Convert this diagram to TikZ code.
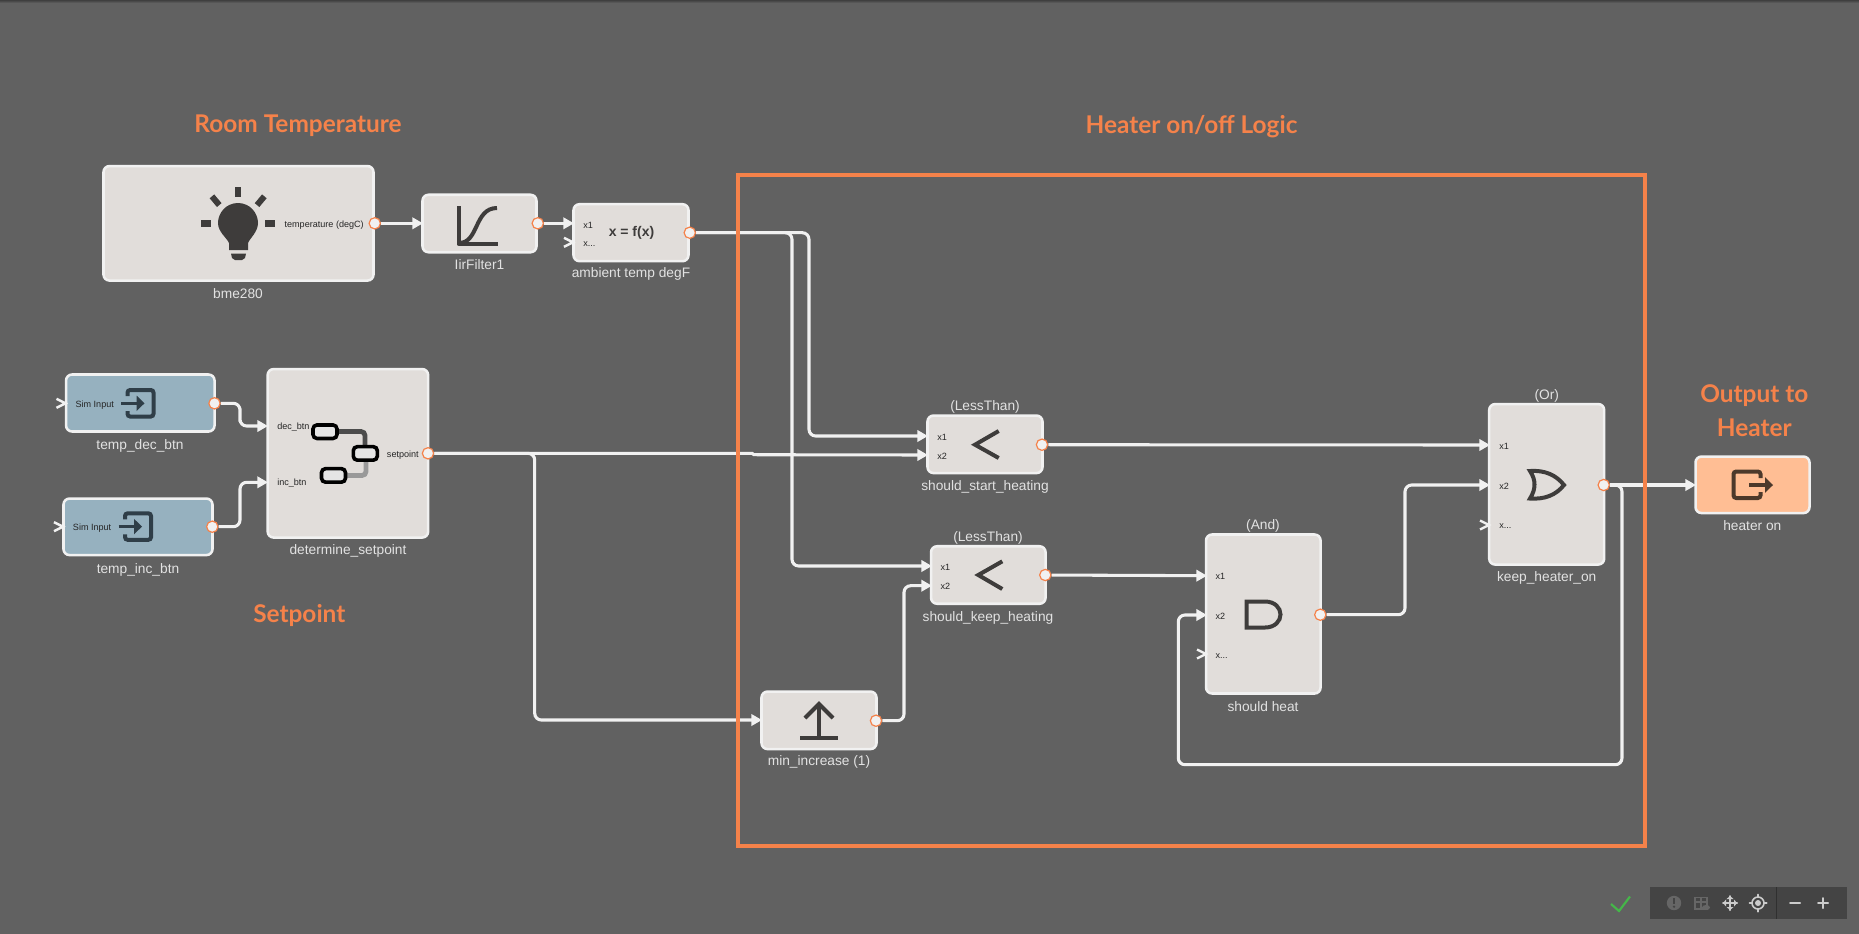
\documentclass[tikz,border=0pt]{standalone}
\usepackage{fontspec}
\setmainfont{Liberation Sans}
\newfontfamily\headfont{Lato}
\usetikzlibrary{arrows.meta,calc,shapes.geometric}
\definecolor{bgc}{HTML}{616161}
\definecolor{boxc}{HTML}{E1DDDA}
\definecolor{edgec}{HTML}{F1F1F1}
\definecolor{simc}{HTML}{96B1BF}
\definecolor{outc}{HTML}{FFBE94}
\definecolor{orangec}{HTML}{F5824A}
\definecolor{darkc}{HTML}{3E3C3B}
\definecolor{simdark}{HTML}{2F3E48}
\definecolor{outdark}{HTML}{4C392B}
\definecolor{labc}{HTML}{E2E2E2}
\definecolor{barc}{HTML}{444444}
\definecolor{okc}{HTML}{45B649}
\tikzset{
 x=0.75pt,y=-0.75pt,
 blockbox/.style={draw=edgec,fill=boxc,line width=1.9pt,rounded corners=4.5pt,inner sep=0pt},
 simbox/.style={blockbox,fill=simc},
 outbox/.style={blockbox,fill=outc},
 wire/.style={draw=edgec,line width=2.3pt,rounded corners=5pt},
 arrowwire/.style={wire,-{Triangle[length=8pt,width=8.5pt]}},
 portdot/.style={circle,draw=orangec,fill=edgec,line width=0.9pt,minimum size=8.5pt,inner sep=0pt},
 openin/.style={draw=edgec,line width=1.8pt},
 blocklabel/.style={text=labc,font=\fontsize{10.3pt}{12pt}\selectfont,inner sep=0pt},
 portlabel/.style={text=black!85,font=\fontsize{6.8pt}{8pt}\selectfont,inner sep=0pt},
 heading/.style={text=orangec,font=\headfont\bfseries\fontsize{18.3pt}{20pt}\selectfont,inner sep=0pt},
 glyph/.style={draw=darkc,line width=3pt},
 tool/.style={draw=#1,line width=1.5pt,line cap=round},
}
\begin{document}
\begin{tikzpicture}
\useasboundingbox (0,0) rectangle (1859,933);
\fill[bgc] (-5,-5) rectangle (1865,940);
\shade[top color=black!35!bgc,bottom color=bgc] (-5,0) rectangle (1865,3);

% blocks
\node[blockbox,minimum width=270*0.75pt,minimum height=114.5*0.75pt] (bme) at (238.5,223.3) {};
\node[blockbox,minimum width=114*0.75pt,minimum height=57.5*0.75pt] (lir) at (479.5,223.5) {};
\node[blockbox,minimum width=115*0.75pt,minimum height=57*0.75pt] (amb) at (631,232.7) {};
\node[simbox,minimum width=148.5*0.75pt,minimum height=57*0.75pt] (dec) at (140.3,403) {};
\node[simbox,minimum width=149*0.75pt,minimum height=56.5*0.75pt] (inc) at (138,526.8) {};
\node[blockbox,minimum width=160.5*0.75pt,minimum height=168.5*0.75pt] (det) at (347.9,453.3) {};
\node[blockbox,minimum width=115*0.75pt,minimum height=57.5*0.75pt] (start) at (985,444.3) {};
\node[blockbox,minimum width=114.5*0.75pt,minimum height=57.5*0.75pt] (keep) at (988.3,575) {};
\node[blockbox,minimum width=114.5*0.75pt,minimum height=159*0.75pt] (heat) at (1263.3,614) {};
\node[blockbox,minimum width=115*0.75pt,minimum height=160.5*0.75pt] (orb) at (1546.7,484.3) {};
\node[outbox,minimum width=114*0.75pt,minimum height=56.5*0.75pt] (heater) at (1752.5,484.8) {};
\node[blockbox,minimum width=115*0.75pt,minimum height=57.5*0.75pt] (minc) at (819,720.3) {};

% ports
\node[portdot] (bmeOut) at (bme.east |- 0,223.3) {};
\node[portdot] (lirOut) at (lir.east |- 0,223.3) {};
\node[portdot] (ambOut) at (amb.east |- 0,232.7) {};
\node[portdot] (decOut) at (214.5,403.3) {};
\node[portdot] (incOut) at (212.3,526.7) {};
\node[portdot] (detOut) at (428,453.3) {};
\node[portdot] (startOut) at (1042,444.7) {};
\node[portdot] (keepOut) at (1045.3,575) {};
\node[portdot] (heatOut) at (1320.3,614.7) {};
\node[portdot] (orOut) at (1603.7,485) {};
\node[portdot] (mincOut) at (876,720.7) {};

% input anchors
\coordinate (lirIn) at (423,223.3);
\coordinate (ambIn) at (574,223.3);
\coordinate (detInA) at (268,426);
\coordinate (detInB) at (268,482.3);
\coordinate (startInA) at (928,436);
\coordinate (startInB) at (928,455);
\coordinate (keepInA) at (932,566);
\coordinate (keepInB) at (932,585.7);
\coordinate (heatInA) at (1207,575.7);
\coordinate (heatInB) at (1207,615);
\coordinate (orInA) at (1490,445);
\coordinate (orInB) at (1490,485);
\coordinate (heaterIn) at (1696,485);
\coordinate (mincIn) at (762,720);
\coordinate (busA) at (809,350);
\coordinate (busB) at (792,400);
\coordinate (busC) at (534.7,600);
\coordinate (busD) at (904,650);
\coordinate (busE) at (1405,550);
\coordinate (busF) at (240,415);
\coordinate (busG) at (240,505);
\coordinate (jogA) at (752,453.3);
\coordinate (jogB) at (754,454.7);
\coordinate (loopA) at (1622,764.7);
\coordinate (loopB) at (1178.3,764.7);

% wires
\draw[arrowwire] (bmeOut) -- (lirIn);
\draw[arrowwire] (lirOut) -- (ambIn);
\draw[arrowwire] (ambOut) -| (busA) |- (startInA);
\draw[arrowwire] (ambOut) -| (busB) |- (keepInA);
\draw[arrowwire] (decOut) -| (busF) |- (detInA);
\draw[arrowwire] (incOut) -| (busG) |- (detInB);
\draw[arrowwire,rounded corners=0pt] (detOut) -- (jogA) -- (jogB) -- (startInB);
\draw[arrowwire] (detOut) -| (busC) |- (mincIn);
\draw[arrowwire] (mincOut) -| (busD) |- (keepInB);
\draw[arrowwire] (startOut) -- (orInA);
\draw[arrowwire] (keepOut) -- (heatInA);
\draw[arrowwire] (heatOut) -| (busE) |- (orInB);
\draw[arrowwire] (orOut) -- (heaterIn);
\draw[arrowwire] (orOut) -| (loopA) -- (loopB) |- (heatInB);

% open inputs
\foreach \xx/\yy in {56.5/403.3,54/526.7,564/242.3,1197/654,1480/525}{
  \draw[openin] (\xx,\yy-4.5) -- (\xx+9,\yy) -- (\xx,\yy+4.5);
}

% frame
\node[draw=orangec,line width=3pt,minimum width=907*0.75pt,minimum height=671*0.75pt,inner sep=0pt] (logicframe) at (1191.6,510) {};

% headings
\node[heading] (h1) at (298,125.5) {Room Temperature};
\node[heading] (h2) at (299.3,615) {Setpoint};
\node[heading] (h3) at (1191.5,126.5) {Heater on/off Logic};
\node[heading] (h4) at (1754.3,395.5) {Output to};
\node[heading] (h5) at (1754.3,427.5) {Heater};

% block labels
\node[blocklabel] (l1) at (238,293.5) {bme280};
\node[blocklabel] (l2) at (479.5,265) {IirFilter1};
\node[blocklabel] (l3) at (631,274) {ambient temp degF};
\node[blocklabel] (l4) at (140,445.5) {temp\_dec\_btn};
\node[blocklabel] (l5) at (138,569.5) {temp\_inc\_btn};
\node[blocklabel] (l6) at (348,551) {determine\_setpoint};
\node[blocklabel] (l7) at (985,406.5) {(LessThan)};
\node[blocklabel] (l8) at (985,486.5) {should\_start\_heating};
\node[blocklabel] (l9) at (988,537.5) {(LessThan)};
\node[blocklabel] (l10) at (988,617.5) {should\_keep\_heating};
\node[blocklabel] (l11) at (1263,525.5) {(And)};
\node[blocklabel] (l12) at (1263,707) {should heat};
\node[blocklabel] (l13) at (1546.7,395.5) {(Or)};
\node[blocklabel] (l14) at (1546.7,578) {keep\_heater\_on};
\node[blocklabel] (l15) at (1752.3,525.5) {heater on};
\node[blocklabel] (l16) at (819,762) {min\_increase (1)};

% port labels
\node[portlabel,anchor=east] (p1) at (364,225.5) {temperature (degC)};
\node[portlabel,anchor=west] (p2) at (583,225.5) {x1};
\node[portlabel,anchor=west] (p3) at (583,244.5) {x...};
\node[portlabel,anchor=west] (p4) at (75.3,405.5) {Sim Input};
\node[portlabel,anchor=west] (p5) at (72.7,528.5) {Sim Input};
\node[portlabel,anchor=west] (p6) at (277,427.2) {dec\_btn};
\node[portlabel,anchor=west] (p7) at (277,483.2) {inc\_btn};
\node[portlabel,anchor=east] (p8) at (419,455.5) {setpoint};
\node[portlabel,anchor=west] (p9) at (937,437.2) {x1};
\node[portlabel,anchor=west] (p10) at (937,456.5) {x2};
\node[portlabel,anchor=west] (p11) at (940.3,567.5) {x1};
\node[portlabel,anchor=west] (p12) at (940.3,586.5) {x2};
\node[portlabel,anchor=west] (p13) at (1215.3,576.5) {x1};
\node[portlabel,anchor=west] (p14) at (1215.3,616.5) {x2};
\node[portlabel,anchor=west] (p15) at (1215.3,656.5) {x...};
\node[portlabel,anchor=west] (p16) at (1499,446.5) {x1};
\node[portlabel,anchor=west] (p17) at (1499,486.5) {x2};
\node[portlabel,anchor=west] (p18) at (1499,526.5) {x...};
\node[text=darkc,inner sep=0pt,font=\bfseries\fontsize{10.5pt}{12pt}\selectfont] (fx) at (631.5,233) {x = f(x)};

% bulb icon
\fill[darkc] (238,203) .. controls (250,203) and (258,213) .. (258,223)
  .. controls (258,232) and (250,238) .. (248,243) -- (248,250) -- (229,250) -- (229,243)
  .. controls (227,238) and (218,232) .. (218,223) .. controls (218,213) and (226,203) .. (238,203) -- cycle;
\fill[darkc] (231,253.5) -- (246,253.5) -- (245,258) -- (242,260) -- (235,260) -- (232,258) -- cycle;
\fill[darkc] (235,187) rectangle (241,197);
\fill[darkc] (201,220) rectangle (211,226.7);
\fill[darkc] (264.5,220) rectangle (275,226.7);
\fill[darkc,rotate around={40:(215.6,200.7)}] (212.6,195) rectangle (218.6,206.4);
\fill[darkc,rotate around={-40:(260.7,200.7)}] (257.7,195) rectangle (263.7,206.4);

% filter icon
\draw[glyph,line join=round] (458.5,206) -- (458.5,244) -- (497.5,244);
\draw[glyph] (459,243) .. controls (479,243) and (474,208) .. (497,208);

% sim-input icons
\foreach \dx/\dy in {0/0,-2.5/123.3}{
  \begin{scope}[shift={(\dx,\dy)}]
  \draw[draw=simdark,line width=3pt,rounded corners=2pt] (127.5,396) -- (127.5,390) -- (153.5,390) -- (153.5,416.5) -- (127.5,416.5) -- (127.5,411);
  \draw[draw=simdark,line width=2.6pt] (121,403.3) -- (138,403.3);
  \fill[simdark] (136.5,395.5) -- (144.5,403.3) -- (136.5,411) -- cycle;
  \end{scope}
}

% nested subsystem icon
\draw[draw=black!70,line width=3.6pt,rounded corners=3pt] (338,431.5) -- (365,431.5) -- (365,446);
\draw[draw=black!40,line width=3.6pt,rounded corners=3pt] (347,475.5) -- (366,475.5) -- (366,461);
\node[draw=black,fill=black!10,line width=2.7pt,rounded corners=3pt,minimum width=24*0.75pt,minimum height=13.5*0.75pt,inner sep=0pt] (subA) at (325,431.7) {};
\node[draw=black,fill=black!10,line width=2.7pt,rounded corners=3pt,minimum width=24*0.75pt,minimum height=13.5*0.75pt,inner sep=0pt] (subB) at (365.3,453.4) {};
\node[draw=black,fill=black!10,line width=2.7pt,rounded corners=3pt,minimum width=24*0.75pt,minimum height=13.5*0.75pt,inner sep=0pt] (subC) at (333.5,475.4) {};

% less-than icons
\draw[glyph] (998.7,431) -- (975,444.7) -- (998.7,458);
\draw[glyph] (1002.3,561.3) -- (978.3,575) -- (1002.3,589);

% and icon
\draw[glyph] (1265,601.5) -- (1246.5,601.5) -- (1246.5,627.5) -- (1265,627.5) .. controls (1275,627.5) and (1280.5,621) .. (1280.5,614.5) .. controls (1280.5,608) and (1275,601.5) .. (1265,601.5) -- cycle;

% or icon
\draw[glyph,line join=miter] (1530,471) .. controls (1545,470) and (1556,475) .. (1564,485) .. controls (1556,495) and (1545,499.5) .. (1530,498.5) .. controls (1536,489) and (1536,480) .. (1530,471) -- cycle;

% step icon
\draw[glyph] (800,737.7) -- (838,737.7);
\draw[glyph] (819,737) -- (819,704);
\draw[glyph] (805,718) -- (819,704) -- (833,718);

% output icon
\draw[draw=outdark,line width=3pt,rounded corners=2pt] (1760.5,478) -- (1760.5,471.5) -- (1733.5,471.5) -- (1733.5,498) -- (1760.5,498) -- (1760.5,492);
\draw[draw=outdark,line width=2.6pt] (1749,485) -- (1766,485);
\fill[outdark] (1765,477.2) -- (1773,485) -- (1765,492.8) -- cycle;

% toolbar
\fill[barc] (1650,887) rectangle (1846.7,919);
\draw[draw=black!50!bgc,line width=0.6pt] (1776.7,887) -- (1776.7,919);
\draw[draw=okc,line width=1.6pt] (1611,904) -- (1619,911) -- (1630,896.5);
\fill[black!60] (1674,903) circle (7.2);
\fill[barc] (1672.8,898) rectangle (1675.2,904.2);
\fill[barc] (1674,906.7) circle (1.3);
\draw[draw=black!60,line width=1.3pt] (1695,897.5) rectangle (1707,909);
\draw[draw=black!60,line width=1pt] (1695,902) -- (1707,902) (1701,897.5) -- (1701,909);
\fill[black!60] (1706,907.5) ellipse (4 and 2.5);
\draw[tool=black!20] (1723,903) -- (1737,903) (1730,896) -- (1730,910);
\fill[black!20] (1723,903) -- (1726,899.5) -- (1726,906.5) -- cycle
  (1737,903) -- (1734,899.5) -- (1734,906.5) -- cycle
  (1730,896) -- (1726.5,899) -- (1733.5,899) -- cycle
  (1730,910) -- (1726.5,907) -- (1733.5,907) -- cycle;
\draw[draw=black!20,line width=1.2pt] (1758,903) circle (6);
\fill[black!20] (1758,903) circle (3);
\draw[tool=black!20] (1758,894.5) -- (1758,897) (1758,909) -- (1758,911.5) (1749.5,903) -- (1752,903) (1764,903) -- (1766.5,903);
\draw[tool=black!20] (1790,903) -- (1800,903);
\draw[tool=black!20] (1818,903) -- (1828,903) (1823,898) -- (1823,908);
\end{tikzpicture}
\end{document}
